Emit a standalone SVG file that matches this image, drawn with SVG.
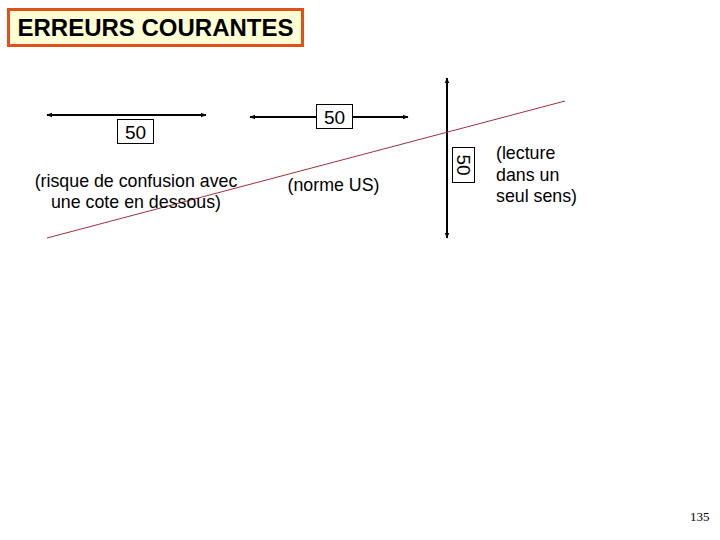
<svg xmlns="http://www.w3.org/2000/svg" width="720" height="540" viewBox="0 0 720 540">
<style>
.t{font-family:"Liberation Sans",Arial,sans-serif;fill:#000}
.dim{stroke:#000;stroke-width:2;fill:none}
.box{fill:#fff;stroke:#000;stroke-width:1}
</style>
<defs>
<marker id="ah" viewBox="0 0 10 10" refX="9" refY="5" markerWidth="3" markerHeight="3" orient="auto-start-reverse">
<path d="M0,1 L10,5 L0,9 Z" fill="#000"/>
</marker>
</defs>
<rect width="720" height="540" fill="#fff"/>
<g id="title">
<rect x="8.5" y="9.5" width="294" height="36" fill="#FFFFD6" stroke="#E0501A" stroke-width="3"/>
<text class="t" x="155.5" y="36" text-anchor="middle" font-size="24" font-weight="bold">ERREURS COURANTES</text>
</g>
<g id="connectors">
<line class="dim" x1="47" y1="115" x2="206" y2="115" marker-start="url(#ah)" marker-end="url(#ah)"/>
<line class="dim" x1="250" y1="117" x2="408" y2="117" marker-start="url(#ah)" marker-end="url(#ah)"/>
<line class="dim" x1="447" y1="78" x2="447" y2="238" marker-start="url(#ah)" marker-end="url(#ah)"/>
<line x1="47" y1="238" x2="565" y2="101" stroke="#A0303C" stroke-width="1"/>
</g>
<g id="dim-left">
<rect class="box" x="117.5" y="119.5" width="36" height="24"/>
<text class="t" x="135.5" y="139" text-anchor="middle" font-size="19">50</text>
<text class="t" x="136" y="187" text-anchor="middle" font-size="17.8">(risque de confusion avec</text>
<text class="t" x="136" y="208" text-anchor="middle" font-size="17.8">une cote en dessous)</text>
</g>
<g id="dim-middle">
<rect class="box" x="316.5" y="104.5" width="36" height="24"/>
<text class="t" x="334.5" y="124" text-anchor="middle" font-size="19">50</text>
<text class="t" x="333.5" y="191" text-anchor="middle" font-size="17.8">(norme US)</text>
</g>
<g id="dim-vertical">
<rect class="box" x="452.5" y="147.5" width="22" height="35"/>
<text class="t" transform="translate(457,165) rotate(90)" text-anchor="middle" font-size="19">50</text>
<text class="t" x="496" y="159" font-size="17.8">(lecture</text>
<text class="t" x="496" y="181" font-size="17.8">dans un</text>
<text class="t" x="496" y="202" font-size="17.8">seul sens)</text>
</g>
<text x="690" y="521" font-family="'Liberation Serif','Times New Roman',serif" font-size="13" fill="#000">135</text>
</svg>
